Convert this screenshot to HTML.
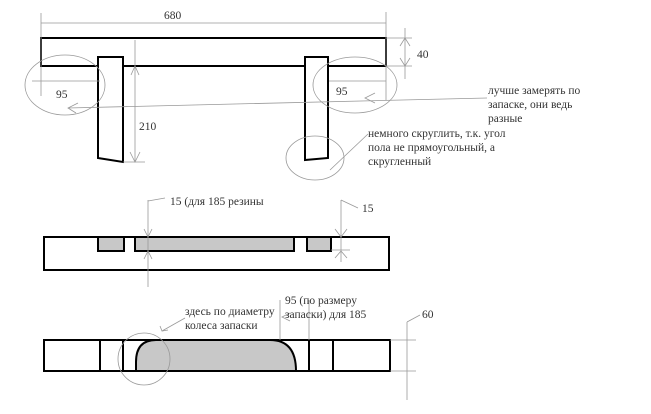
<!DOCTYPE html>
<html><head><meta charset="utf-8"><style>
html,body{margin:0;padding:0;background:#fff;}
svg{display:block;}
text{font-family:"Liberation Serif","DejaVu Serif",serif;fill:#333;}
</style></head><body>
<svg width="651" height="414" viewBox="0 0 651 414" xmlns="http://www.w3.org/2000/svg">
<g stroke="#000" stroke-width="2" fill="#fff">
<rect x="41" y="38" width="345" height="28"/>
<path d="M98 57 L123 57 L123 162 L98 158 Z"/>
<path d="M305 57 L328 57 L328 158 L305 160 Z"/>
<rect x="44" y="237" width="345" height="33"/>
<rect x="98" y="237" width="26" height="14" fill="#c8c8c8"/>
<rect x="135" y="237" width="159" height="14" fill="#c8c8c8"/>
<rect x="307" y="237" width="24" height="14" fill="#c8c8c8"/>
<rect x="44" y="340" width="346" height="31"/>
<line x1="100" y1="340" x2="100" y2="371"/>
<line x1="123" y1="340" x2="123" y2="371"/>
<line x1="309" y1="340" x2="309" y2="371"/>
<line x1="333" y1="340" x2="333" y2="371"/>
<path d="M136 371 L136 362 Q136 340 156 340 L270 340 Q296 340 296 371 Z" fill="#c8c8c8"/>
</g>
<g stroke="#999" stroke-width="0.8" fill="none">
<line x1="41" y1="13" x2="41" y2="96"/>
<line x1="386" y1="12" x2="386" y2="100"/>
<line x1="41" y1="23" x2="386" y2="23"/>
<line x1="386" y1="38" x2="412" y2="38"/>
<line x1="386" y1="66" x2="412" y2="66"/>
<line x1="405" y1="28" x2="405" y2="79"/>
<path d="M400 46 L405 38 L410 46 M400 58 L405 66 L410 58"/>
<ellipse cx="65" cy="85" rx="40" ry="30"/>
<ellipse cx="355" cy="85" rx="42" ry="28"/>
<ellipse cx="315" cy="158" rx="29" ry="22"/>
<line x1="32" y1="81" x2="100" y2="81"/>
<line x1="329" y1="81" x2="386" y2="81"/>
<line x1="487" y1="98" x2="68" y2="108"/>
<path d="M78 103 L68 108 L76 113"/>
<path d="M375 93 L365 98 L375 103"/>
<line x1="330" y1="170" x2="368" y2="134"/>
<line x1="135" y1="40" x2="135" y2="162"/>
<line x1="123" y1="162" x2="145" y2="162"/>
<path d="M131 75 L135 66 L139 75 M130 152 L135 162 L140 152"/>
<line x1="148" y1="200" x2="148" y2="287"/>
<line x1="148" y1="201" x2="165" y2="198"/>
<path d="M144 229 L148 237 L152 229 M144 259 L148 251 L152 259"/>
<line x1="341" y1="200" x2="341" y2="262"/>
<line x1="341" y1="200" x2="358" y2="208"/>
<line x1="331" y1="250" x2="350" y2="250"/>
<path d="M335 229 L341 237 L347 229 M335 258 L341 251 L347 258"/>
<circle cx="144" cy="359" r="26"/>
<line x1="162" y1="331" x2="185" y2="318"/>
<path d="M160 326 L162 331 L168 330"/>
<line x1="280" y1="300" x2="280" y2="340"/>
<line x1="309" y1="300" x2="309" y2="340"/>
<path d="M290 313 L282 317 L290 321"/>
<line x1="390" y1="340" x2="416" y2="340"/>
<line x1="390" y1="371" x2="416" y2="371"/>
<line x1="407" y1="322" x2="407" y2="400"/>
<line x1="407" y1="322" x2="420" y2="315"/>
</g>
<g font-size="11.5">
<text x="164" y="19">680</text>
<text x="417" y="58">40</text>
<text x="56" y="98">95</text>
<text x="336" y="95">95</text>
<text x="139" y="130">210</text>
<text x="488" y="94">лучше замерять по</text>
<text x="488" y="108">запаске, они ведь</text>
<text x="488" y="122">разные</text>
<text x="368" y="137">немного скруглить, т.к. угол</text>
<text x="368" y="151">пола не прямоугольный, а</text>
<text x="368" y="165">скругленный</text>
<text x="170" y="205">15 (для 185 резины</text>
<text x="362" y="212">15</text>
<text x="185" y="315">здесь по диаметру</text>
<text x="185" y="329">колеса запаски</text>
<text x="285" y="304">95 (по размеру</text>
<text x="285" y="318">запаски) для 185</text>
<text x="422" y="318">60</text>
</g>
</svg>
</body></html>
